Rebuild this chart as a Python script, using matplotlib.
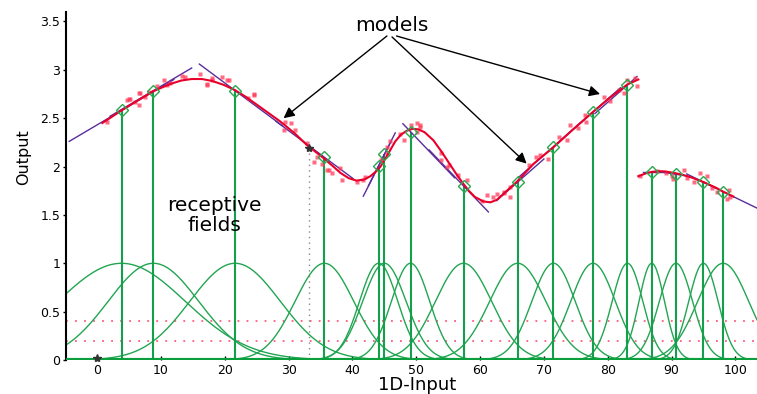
import numpy as np
import matplotlib
matplotlib.use("Agg")
import matplotlib.pyplot as plt

plt.rcParams['font.family'] = ['DejaVu Sans']

# receptive field centres, widths and local model value at the centre
centers = [3.8, 8.8, 21.6, 35.6, 44.1, 45.0, 49.1, 57.4, 65.9, 71.5, 77.7, 83.1, 86.9, 90.7, 95.0, 98.1]
widths = [10.0, 7.1, 7.1, 4.6, 3.0, 3.4, 3.0, 4.4, 4.4, 3.4, 3.5, 2.4, 2.0, 2.6, 2.3, 4.0]
model_out = [2.58, 2.785, 2.785, 2.096, 2.006, 2.127, 2.36, 1.80, 1.84, 2.206, 2.565, 2.844, 1.947, 1.92, 1.84, 1.74]

# local linear models: slope and extent of each drawn segment
model_slope = [0.039, 0.039, -0.049, -0.049, 0.13, 0.13, -0.069, -0.069, 0.058, 0.058, 0.058, 0.058, 0.0, -0.01, -0.032, -0.032]
model_from = [-4.4, 2.0, 16.0, 28.0, 41.7, 42.5, 47.9, 52.0, 62.6, 66.0, 72.0, 78.0, 85.6, 88.5, 92.4, 95.0]
model_to = [12.0, 14.8, 29.0, 40.1, 46.0, 46.7, 56.0, 61.3, 70.0, 76.0, 82.0, 84.6, 89.0, 92.4, 97.0, 103.4]

# target function (two pieces)
fx1 = [0.8, 3.8, 6.5, 8.8, 11.5, 13.2, 14.8, 16.4, 18.0, 19.8, 21.6, 23.3, 25.0, 26.8, 28.7, 31.0,
       32.9, 35.5, 37.0, 38.1, 39.4, 40.6, 41.8, 42.8, 43.7, 44.4, 45.4, 46.7, 47.6, 48.5, 49.4,
       50.3, 51.3, 52.7, 54.0, 55.3, 56.4, 57.4, 58.3, 59.2, 60.5, 61.6, 62.6, 63.7, 65.8,
       68.4, 71.5, 74.5, 77.7, 80.5, 83.1, 84.8]
fy1 = [2.45, 2.58, 2.69, 2.78, 2.855, 2.89, 2.905, 2.905, 2.885, 2.845, 2.79, 2.72, 2.64, 2.555, 2.465, 2.34,
       2.22, 2.085, 2.00, 1.935, 1.88, 1.855, 1.865, 1.90, 1.95, 2.00, 2.11, 2.26, 2.33, 2.37, 2.39,
       2.385, 2.355, 2.27, 2.15, 2.02, 1.91, 1.82, 1.745, 1.685, 1.64, 1.63, 1.655, 1.72, 1.845,
       2.03, 2.20, 2.38, 2.565, 2.72, 2.85, 2.90]
fx2 = [84.8, 86.0, 86.9, 88.0, 89.0, 90.7, 92.0, 93.0, 95.0, 97.0, 98.1, 99.7]
fy2 = [1.90, 1.93, 1.945, 1.952, 1.95, 1.93, 1.91, 1.89, 1.84, 1.78, 1.74, 1.69]

# noisy training samples
sx = [1.5, 4.65, 4.9, 5.17, 5.96, 6.48, 6.5, 6.74, 7.52, 8.04, 9.35, 10.4, 10.9, 11.4, 13.3, 13.8,
      16.1, 17.2, 17.2, 18.0, 18.0, 19.5, 20.3, 20.6, 23.7, 24.5, 24.5, 29.2, 29.5, 30.3, 31.0,
      32.9, 33.9, 34.4, 35.2, 36.0, 36.3, 36.8, 38.1, 38.4, 40.7, 41.7, 42.0, 44.4, 45.4, 45.4,
      45.9, 47.5, 48.0, 49.1, 50.1, 50.1, 50.6, 50.6, 53.8, 53.8, 54.8, 55.1, 56.6, 57.9, 60.3,
      61.1, 62.1, 62.6, 63.7, 63.7, 64.7, 64.7, 67.6, 68.7, 69.4, 70.7, 72.3, 73.6, 74.1, 75.4,
      76.5, 76.6, 79.4, 80.4, 81.7, 82.5, 83.0, 84.3, 84.6, 85.1, 87.7, 89.2, 90.1, 90.3, 91.9,
      92.4, 93.5, 94.5, 95.6, 96.3, 97.1, 98.7, 99.0, 99.2]
sy = [2.46, 2.69, 2.70, 2.695, 2.67, 2.64, 2.76, 2.758, 2.72, 2.775, 2.83, 2.89, 2.84, 2.86, 2.94, 2.93,
      2.96, 2.85, 2.84, 2.90, 2.92, 2.93, 2.90, 2.90, 2.71, 2.75, 2.74, 2.38, 2.46, 2.45, 2.38,
      2.24, 2.05, 2.10, 2.03, 1.965, 1.965, 1.93, 1.98, 1.86, 1.845, 1.86, 1.895, 2.07, 2.14, 2.205,
      2.26, 2.34, 2.275, 2.43, 2.36, 2.45, 2.41, 2.43, 2.14, 2.07, 2.00, 2.02, 1.91, 1.86, 1.64,
      1.71, 1.69, 1.72, 1.73, 1.74, 1.69, 1.79, 2.02, 2.10, 2.12, 2.08, 2.31, 2.27, 2.43, 2.40,
      2.53, 2.46, 2.72, 2.68, 2.79, 2.76, 2.90, 2.92, 2.83, 1.90, 1.95, 1.93, 1.90, 1.87, 1.965,
      1.88, 1.845, 1.93, 1.90, 1.775, 1.74, 1.66, 1.76, 1.69]

query_x, query_y = 33.2, 2.19
thresholds = [0.4, 0.2]

green = '#14a04a'
fig = plt.figure(figsize=(7.57, 3.94), dpi=100)
ax = fig.add_axes([66 / 757, 34 / 394, 691 / 757, 348.2 / 394])
ax.set_xlim(-4.9, 103.4)
ax.set_ylim(0, 3.6)

xg = np.linspace(-4.9, 103.4, 800)
for c, w in zip(centers, widths):
    ax.plot(xg, np.exp(-0.5 * ((xg - c) / w) ** 2), color='#22a552', lw=1.0, zorder=2)

for t in thresholds:
    ax.axhline(t, color='#ff5c7c', lw=1.3, ls=(0, (1, 4)), zorder=1)

ax.vlines(centers, 0, model_out, color=green, lw=1.5, zorder=3)
ax.axhline(0, color='#0a9e3c', lw=3, zorder=4)

for c, b, m, x0, x1 in zip(centers, model_out, model_slope, model_from, model_to):
    ax.plot([x0, x1], [b + m * (x0 - c), b + m * (x1 - c)], color='#5a2d9c', lw=1.0, zorder=5)

ax.plot(sx, sy, 's', ms=2.2, color='#ff3a5a', mec='none', alpha=0.75, zorder=6)
ax.plot(fx1, fy1, color='#e8002a', lw=1.5, zorder=7)
ax.plot(fx2, fy2, color='#e8002a', lw=1.5, zorder=7)

ax.plot(centers, model_out, 'D', ms=6, mfc='none', mec='#2aa84f', mew=1.0, zorder=8)

ax.vlines(query_x, 0, query_y, color='#8a8a8a', lw=1.0, ls=(0, (1, 3)), zorder=3)
ax.plot([query_x], [query_y], '*', color='#333333', ms=6, zorder=9)
ax.plot([0], [0.02], '*', color='#333333', ms=6, zorder=9, clip_on=False)

# annotations
ax.text(46.2, 3.40, 'models', ha='center', va='baseline', fontsize=14.5)
for start, end in [((45.4, 3.35), (29.2, 2.50)), ((46.2, 3.34), (67.3, 2.03)), ((46.9, 3.35), (78.8, 2.75))]:
    ax.annotate('', xy=end, xytext=start,
                arrowprops=dict(arrowstyle='-|>', color='black', lw=1.0, mutation_scale=16,
                                shrinkA=0, shrinkB=0))
ax.text(18.3, 1.54, 'receptive', ha='center', va='baseline', fontsize=14.5)
ax.text(18.3, 1.33, 'fields', ha='center', va='baseline', fontsize=14.5)

ax.set_xticks(range(0, 101, 10))
ax.set_yticks([0, 0.5, 1, 1.5, 2, 2.5, 3, 3.5])
ax.set_yticklabels(['0', '0.5', '1', '1.5', '2', '2.5', '3', '3.5'])
ax.tick_params(axis='y', direction='out', length=2.5, width=1, labelsize=9, pad=1.5)
ax.tick_params(axis='x', direction='in', length=3, width=1, labelsize=9, pad=3)
for s in ['top', 'right', 'bottom']:
    ax.spines[s].set_visible(False)
ax.spines['left'].set_linewidth(1.5)

fig.text(24 / 757, 1 - 157 / 394, 'Output', rotation=90, ha='center', va='center', fontsize=11.5)
fig.text(417 / 757, 1 - 390 / 394, '1D-Input', ha='center', va='baseline', fontsize=13)

fig.savefig('out.png', dpi=100)
